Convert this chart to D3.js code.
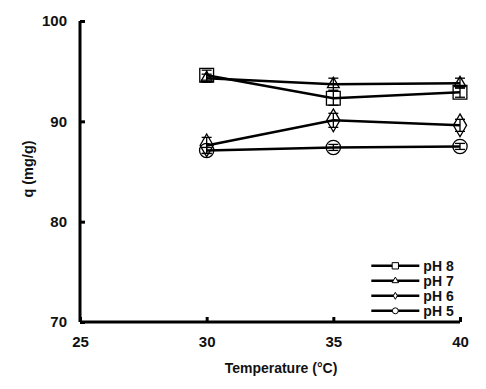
<!DOCTYPE html>
<html>
<head>
<meta charset="utf-8">
<script src="https://cdn.jsdelivr.net/npm/d3@7"></script>
<style>
  body { margin: 0; background: #fff; }
  text { font-family: "Liberation Sans", Arial, sans-serif; font-weight: bold; fill: #111; }
</style>
</head>
<body>
<svg id="chart" width="486" height="389"></svg>
<script>
// data
const temperatures = [30, 35, 40];
const seriesNames = ["pH 8", "pH 7", "pH 6", "pH 5"];
const ph8 = [94.6, 92.3, 92.9];
const ph7 = [94.3, 93.7, 93.8];
const ph6 = [87.6, 90.1, 89.6];
const ph5 = [87.1, 87.4, 87.5];
const ph8Err = [0.5, 0.7, 0.5];
const ph7Err = [0.4, 0.6, 0.5];
const ph6Err = [0.8, 0.7, 0.6];
const ph5Err = [0.3, 0.3, 0.3];
const xTicks = [25, 30, 35, 40];
const yTicks = [70, 80, 90, 100];

const series = [
  { name: seriesNames[0], values: ph8, err: ph8Err, symbol: d3.symbolSquare, size: 190, legendSize: 40 },
  { name: seriesNames[1], values: ph7, err: ph7Err, symbol: d3.symbolTriangle, size: 60, legendSize: 18 },
  { name: seriesNames[2], values: ph6, err: ph6Err, symbol: d3.symbolDiamond, size: 150, legendSize: 14 },
  { name: seriesNames[3], values: ph5, err: ph5Err, symbol: d3.symbolCircle, size: 160, legendSize: 28 }
];

const svg = d3.select("#chart");
const margin = { top: 21, right: 26, bottom: 67, left: 80 };
const width = 486 - margin.left - margin.right;
const height = 389 - margin.top - margin.bottom;

const g = svg.append("g").attr("transform", `translate(${margin.left},${margin.top})`);

const x = d3.scaleLinear().domain([25, 40]).range([0, width]);
const y = d3.scaleLinear().domain([70, 100]).range([height, 0]);

// axes
const xAxis = g.append("g")
  .attr("transform", `translate(0,${height})`)
  .call(d3.axisBottom(x).tickValues(xTicks).tickSize(-5).tickPadding(14));
const yAxis = g.append("g")
  .call(d3.axisLeft(y).tickValues(yTicks).tickSize(-5).tickPadding(13));

[xAxis, yAxis].forEach((ax) => {
  ax.select(".domain").attr("stroke", "#000").attr("stroke-width", 3);
  ax.selectAll(".tick line").attr("stroke", "#000").attr("stroke-width", 3);
  ax.selectAll(".tick text").style("font-size", "15px").style("font-family", "Liberation Sans, Arial, sans-serif").style("font-weight", "bold").attr("fill", "#111");
});
yAxis.select(".domain").attr("d", `M0,${height}V0`);
xAxis.select(".domain").attr("d", `M0,0H${width}`);

// axis titles
g.append("text")
  .attr("x", width / 2 + 11)
  .attr("y", height + 51)
  .attr("text-anchor", "middle")
  .style("font-size", "14px")
  .text("Temperature (°C)");

g.append("text")
  .attr("transform", "rotate(-90)")
  .attr("x", -148)
  .attr("y", -47)
  .attr("text-anchor", "middle")
  .style("font-size", "14.5px")
  .text("q (mg/g)");

// lines
const line = d3.line()
  .x((d, i) => x(temperatures[i]))
  .y((d) => y(d));

series.forEach((s) => {
  g.append("path")
    .datum(s.values)
    .attr("fill", "none")
    .attr("stroke", "#000")
    .attr("stroke-width", 2.5)
    .attr("d", line);

  // error bars
  s.values.forEach((v, i) => {
    const cx = x(temperatures[i]);
    const eg = g.append("g").attr("stroke", "#000").attr("stroke-width", 1.3);
    eg.append("line").attr("x1", cx).attr("x2", cx).attr("y1", y(v - s.err[i])).attr("y2", y(v + s.err[i]));
    [v - s.err[i], v + s.err[i]].forEach((e) => {
      eg.append("line").attr("x1", cx - 5).attr("x2", cx + 5).attr("y1", y(e)).attr("y2", y(e));
    });
  });

  // markers
  g.selectAll(null)
    .data(s.values)
    .enter()
    .append("path")
    .attr("transform", (d, i) => `translate(${x(temperatures[i])},${y(d)})`)
    .attr("d", d3.symbol().type(s.symbol).size(s.size))
    .attr("fill", "none")
    .attr("stroke", "#000")
    .attr("stroke-width", 1.3);
});

// legend
const legend = g.append("g").attr("transform", `translate(${x(36.5)},${y(75.6)})`);
series.forEach((s, i) => {
  const row = legend.append("g").attr("transform", `translate(0,${i * 15})`);
  row.append("line").attr("x1", 0).attr("x2", 48).attr("stroke", "#000").attr("stroke-width", 2.5);
  row.append("path")
    .attr("transform", "translate(24,0)")
    .attr("d", d3.symbol().type(s.symbol).size(s.legendSize))
    .attr("fill", "#fff")
    .attr("stroke", "#000")
    .attr("stroke-width", 1);
  row.append("text")
    .attr("x", 52)
    .attr("y", 5)
    .style("font-size", "14px")
    .text(s.name);
});
</script>
</body>
</html>
